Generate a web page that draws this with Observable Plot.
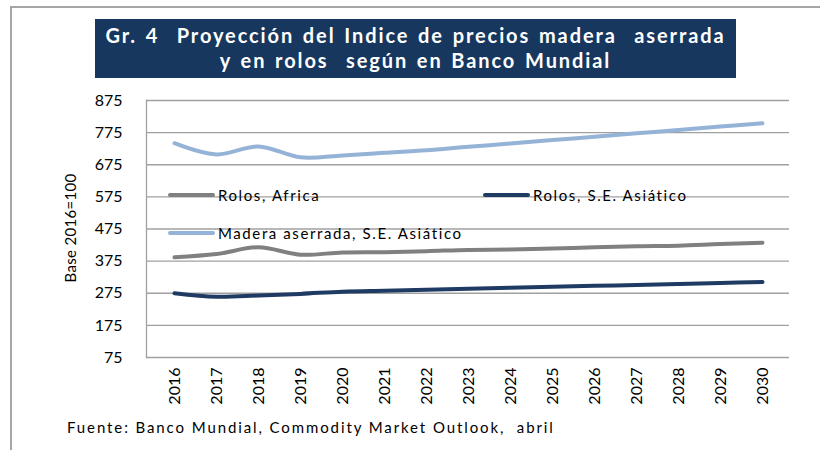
<!DOCTYPE html>
<html>
<head>
<meta charset="utf-8">
<script src="https://cdn.jsdelivr.net/npm/d3@7"></script>
<script src="https://cdn.jsdelivr.net/npm/@observablehq/plot@0.6"></script>
<style>
  html, body { margin: 0; padding: 0; background: #fff; }
  #wrap { position: relative; width: 820px; height: 450px; overflow: hidden; font-family: Lato, "Liberation Sans", sans-serif; }
  #border { position: absolute; left: 10px; top: 6px; width: 900px; height: 600px; border-top: 2px solid #a6a6a6; border-left: 2px solid #a6a6a6; }
  #chart { position: absolute; left: 0; top: 0; }
  #title { position: absolute; left: 95px; top: 19px; width: 641px; height: 59px; background: #17375e; color: #fff;
           font-weight: bold; font-size: 20px; line-height: 25px; letter-spacing: 1.9px; word-spacing: 2px; text-align: center; padding-top: 4px; box-sizing: border-box; white-space: nowrap; }
  #ylab { position: absolute; left: 70px; top: 228px; transform: translate(-50%, -50%) rotate(-90deg); font-size: 15px; letter-spacing: 0.3px; color: #000; white-space: nowrap; }
  #caption { position: absolute; left: 67px; top: 418px; font-size: 15px; letter-spacing: 1.9px; color: #000; white-space: nowrap; }
  .leg { position: absolute; display: flex; align-items: center; font-size: 15px; letter-spacing: 1.6px; white-space: nowrap; color: #000; }
  .leg .sw { width: 47px; height: 4px; border-radius: 2px; margin-right: 3px; }
</style>
</head>
<body>
<div id="wrap">
  <div id="border"></div>
  <div id="chart"></div>
  <div id="title">Gr. 4&nbsp; Proyección del Indice de precios madera&nbsp; aserrada<br>y en rolos&nbsp; según en Banco Mundial</div>
  <div id="ylab">Base 2016=100</div>
  <div id="caption">Fuente: Banco Mundial, Commodity Market Outlook,&nbsp; abril</div>
  <div class="leg" style="left:168px; top:186px;"><div class="sw" style="background:#808080"></div>Rolos, Africa</div>
  <div class="leg" style="left:483px; top:186px;"><div class="sw" style="background:#1f3b63"></div>Rolos, S.E. Asiático</div>
  <div class="leg" style="left:168px; top:224px;"><div class="sw" style="background:#95b3d7"></div>Madera aserrada, S.E. Asiático</div>
</div>
<script>
const years = ["2016","2017","2018","2019","2020","2021","2022","2023","2024","2025","2026","2027","2028","2029","2030"];
const rolosAfrica = [387, 397, 418, 395, 402, 403, 406, 410, 411, 414, 418, 421, 423, 428, 432];
const rolosAsia = [275, 264, 268, 273, 280, 283, 286, 289, 292, 295, 298, 301, 304, 307, 310];
const maderaAsia = [742, 707, 732, 698, 704, 712, 720, 731, 741, 752, 762, 773, 783, 794, 804];
const yTicks = [75, 175, 275, 375, 475, 575, 675, 775, 875];
const seriesNames = ["Rolos, Africa", "Rolos, S.E. Asiático", "Madera aserrada, S.E. Asiático"];
const seriesColors = ["#808080", "#1f3b63", "#95b3d7"];

const data = [];
[rolosAfrica, rolosAsia, maderaAsia].forEach((arr, i) => {
  arr.forEach((v, j) => data.push({series: seriesNames[i], year: years[j], value: v}));
});

const plot = Plot.plot({
  width: 820,
  height: 450,
  marginLeft: 146,
  marginRight: 31,
  marginTop: 100,
  marginBottom: 93,
  style: {fontFamily: "Lato, 'Liberation Sans', sans-serif", fontSize: "16px", color: "#000", background: "transparent"},
  x: {type: "point", domain: years, padding: 0.5, label: null},
  y: {domain: [75, 875], label: null},
  color: {domain: seriesNames, range: seriesColors},
  marks: [
    Plot.ruleY(yTicks, {stroke: "#a0a0a0", strokeWidth: 1.3}),
    Plot.frame({anchor: "left", stroke: "#a0a0a0", strokeWidth: 1.3}),
    Plot.axisY(yTicks, {tickSize: 0, tickPadding: 24, fontSize: 16, label: null, style: {letterSpacing: "2px"}}),
    Plot.axisX({tickSize: 0, tickPadding: 10, tickRotate: -90, fontSize: 16, label: null, style: {letterSpacing: "0.5px"}}),
    Plot.line(data, {x: "year", y: "value", z: "series", stroke: "series", strokeWidth: 4, curve: "catmull-rom"})
  ]
});
document.getElementById("chart").appendChild(plot);
</script>
</body>
</html>
